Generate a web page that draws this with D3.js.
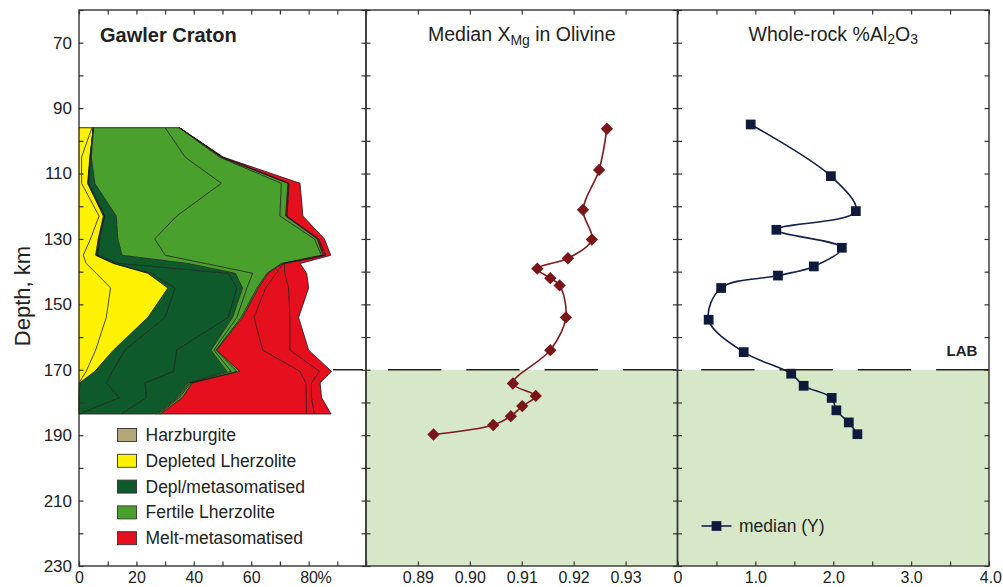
<!DOCTYPE html>
<html>
<head>
<meta charset="utf-8">
<script src="https://cdn.jsdelivr.net/npm/d3@7"></script>
<style>
  html, body { margin: 0; padding: 0; background: #fff; }
  svg { display: block; font-family: "Liberation Sans", Arial, Helvetica, sans-serif; }
</style>
</head>
<body>
<svg id="chart" width="1003" height="587"></svg>
<script>
// ---------------- data ----------------
// Depth rows (km) of the rock-type profile
const depthRows = [96, 105, 113, 123, 130, 135, 137.5, 140.5, 145, 154, 164, 170.5, 174, 178.5, 183.5];

// Proportion (%) of each rock type at every depth row; a rock type may be split
// into several sub-columns, which share one colour and are separated by a thin line
const harzburgite    = [0, 0, 0, 0, 0, 0, 0, 0, 0, 0, 0, 0, 0, 0, 0];
const depletedLherzA = [4.5, 0.9, 0.9, 7, 4, 1.5, 2.5, 6, 11, 9.5, 5.8, 2.5, 0, 0, 0];
const depletedLherzB = [0.5, 2.9, 2.1, 1.5, 2.7, 4.3, 9.5, 18, 20, 14.5, 6.2, 3, 0.3, 0, 0];
const deplMetaA      = [0, 0.1, 0.2, 0.3, 0.3, 0.4, 0.5, 1, 2.5, 6, 4, 6.1, 9.3, 14, 0.3];
const deplMetaB      = [0, 0.1, 0.2, 0.2, 0.2, 0.3, 1.5, 27, 21.5, 22, 18, 21.4, 13.4, 9.5, 14.5];
const deplMetaC      = [0, 0.3, 2.1, 4, 6.3, 8.5, 24, 2.5, 2, 1.5, 12, 18.5, 15, 10.5, 12.2];
const fertileLherzA  = [25, 32.7, 44.1, 21, 12.9, 15, 6, 6, 1.5, 1.5, 1, 1.5, 0.5, 0.5, 0.5];
const fertileLherzB  = [5, 12, 20.9, 36, 55.6, 54.5, 26.5, 5, 3.5, 1.5, 0.7, 2, 0.5, 0.5, 0.5];
const fertileLherzC  = [0, 0.6, 2.3, 2, 1, 0.5, 0.5, 0.4, 0.5, 0.5, 0.3, 1, 0.5, 1, 0.5];
const meltMetaA      = [0, 0.2, 0.2, 0.3, 0.3, 0.5, 0.3, 2.8, 2.5, 4, 16, 21, 39.5, 43.2, 50.7];
const meltMetaB      = [0, 0.2, 0.2, 0.2, 0.3, 0.5, 0.3, 3, 8, 12.5, 9.5, 6.8, 2, 1.8, 2.8];
const meltMetaC      = [0, 0.3, 3.8, 5.5, 1.9, 1.7, 5.4, 7.6, 7, 3, 6.5, 4.2, 3, 3.5, 5.8];

const rockTypes = ["Harzburgite", "Depleted Lherzolite", "Depl/metasomatised", "Fertile Lherzolite", "Melt-metasomatised"];
const rockColors = ["#b3a77a", "#fff200", "#0f5a2b", "#4aa02c", "#e60f1e"];

// Median olivine Mg# with depth
const olivineDepth = [96.3, 108.9, 121.1, 130.2, 135.9, 139.1, 142, 144.2, 154, 164, 174.2, 178, 181.1, 184.2, 186.9, 189.8];
const olivineXMg   = [0.9264, 0.9249, 0.9218, 0.9235, 0.9189, 0.9130, 0.9155, 0.9173, 0.9185, 0.9155, 0.9083, 0.9127, 0.9101, 0.9079, 0.9045, 0.8930];

// Median whole-rock Al2O3 (wt%) with depth
const aluminaDepth = [95, 110.8, 121.5, 127.2, 132.7, 138.4, 141.2, 145, 154.7, 164.6, 171.2, 174.9, 178.6, 182.4, 186.1, 189.7];
const aluminaPct   = [0.94, 1.97, 2.29, 1.27, 2.11, 1.75, 1.29, 0.56, 0.40, 0.85, 1.46, 1.62, 1.98, 2.04, 2.20, 2.31];

const labDepth = 170;

// Axis ticks
const depthTicks = d3.range(60, 231, 10);
const depthLabels = d3.range(70, 231, 20);
const rockTicks = d3.range(0, 101, 10);
const rockLabels = [0, 20, 40, 60, 80];
const olivineTicks = [0.88, 0.89, 0.90, 0.91, 0.92, 0.93, 0.94];
const olivineLabels = [0.89, 0.90, 0.91, 0.92, 0.93];
const aluminaTicks = d3.range(0, 4.01, 0.5);
const aluminaLabels = [0, 1, 2, 3, 4];

// ---------------- layout ----------------
const svg = d3.select("#chart");
const yTop = 10, yBot = 566;
const y = d3.scaleLinear().domain([60, 230]).range([yTop, yBot]);
const xRock = d3.scaleLinear().domain([0, 100]).range([79, 366]);
const xOl = d3.scaleLinear().domain([0.88, 0.94]).range([366, 677.5]);
const xAl = d3.scaleLinear().domain([0, 4]).range([677.5, 989]);

const ink = "#222";
const frameInk = "#333";

// ---------------- asthenosphere band (below LAB) ----------------
svg.append("rect")
  .attr("x", xOl.range()[0]).attr("y", y(labDepth))
  .attr("width", xAl.range()[1] - xOl.range()[0])
  .attr("height", y(230) - y(labDepth))
  .attr("fill", "#d6e8c8");

// ---------------- stacked rock-type profile ----------------
const layers = [
  {key: "harz", values: harzburgite, type: 0},
  {key: "dlA", values: depletedLherzA, type: 1},
  {key: "dlB", values: depletedLherzB, type: 1},
  {key: "dmA", values: deplMetaA, type: 2},
  {key: "dmB", values: deplMetaB, type: 2},
  {key: "dmC", values: deplMetaC, type: 2},
  {key: "flA", values: fertileLherzA, type: 3},
  {key: "flB", values: fertileLherzB, type: 3},
  {key: "flC", values: fertileLherzC, type: 3},
  {key: "mmA", values: meltMetaA, type: 4},
  {key: "mmB", values: meltMetaB, type: 4},
  {key: "mmC", values: meltMetaC, type: 4}
];
const rows = depthRows.map((d, i) => {
  const r = {depth: d};
  layers.forEach(l => { r[l.key] = l.values[i]; });
  return r;
});
const stacked = d3.stack().keys(layers.map(l => l.key))(rows);

const area = d3.area()
  .y(d => y(d.data.depth))
  .x0(d => xRock(d[0]))
  .x1(d => xRock(d[1]));

const gRock = svg.append("g");
gRock.selectAll("path.layer")
  .data(stacked)
  .join("path")
  .attr("class", "layer")
  .attr("d", area)
  .attr("fill", (s, i) => rockColors[layers[i].type])
  .attr("stroke", (s, i) => rockColors[layers[i].type])
  .attr("stroke-width", 0.3);

const edge = d3.line()
  .x(d => xRock(d[1]))
  .y(d => y(d.data.depth));
gRock.selectAll("path.edge")
  .data(stacked.slice(1))
  .join("path")
  .attr("class", "edge")
  .attr("d", edge)
  .attr("fill", "none")
  .attr("stroke", "#1c1c1c")
  .attr("stroke-width", 0.8)
  .attr("stroke-linejoin", "round");

// top and bottom closing edges
const outer = stacked[stacked.length - 1];
[0, outer.length - 1].forEach(i => {
  gRock.append("line")
    .attr("x1", xRock(0)).attr("x2", xRock(outer[i][1]))
    .attr("y1", y(outer[i].data.depth)).attr("y2", y(outer[i].data.depth))
    .attr("stroke", "#333").attr("stroke-width", 1);
});

// ---------------- olivine Mg# ----------------
const olPts = olivineDepth.map((d, i) => [xOl(olivineXMg[i]), y(d)]);
svg.append("path")
  .attr("d", d3.line().curve(d3.curveCatmullRom.alpha(0.5))(olPts))
  .attr("fill", "none").attr("stroke", "#7e1a1c").attr("stroke-width", 1.6);
svg.append("g").selectAll("path")
  .data(olPts)
  .join("path")
  .attr("d", d3.symbol(d3.symbolSquare, 76)())
  .attr("transform", p => `translate(${p[0]},${p[1]}) rotate(45)`)
  .attr("fill", "#7a1518");

// ---------------- whole-rock Al2O3 ----------------
const alPts = aluminaDepth.map((d, i) => [xAl(aluminaPct[i]), y(d)]);
svg.append("path")
  .attr("d", d3.line().curve(d3.curveCatmullRom.alpha(0.5))(alPts))
  .attr("fill", "none").attr("stroke", "#13204a").attr("stroke-width", 1.6);
svg.append("g").selectAll("path")
  .data(alPts)
  .join("path")
  .attr("d", d3.symbol(d3.symbolSquare, 95)())
  .attr("transform", p => `translate(${p[0]},${p[1]})`)
  .attr("fill", "#0e1a3c");

// ---------------- LAB line ----------------
svg.append("line")
  .attr("x1", 333).attr("x2", xAl.range()[1])
  .attr("y1", y(labDepth)).attr("y2", y(labDepth))
  .attr("stroke", ink).attr("stroke-width", 1.5)
  .attr("stroke-dasharray", "53.3,25")
  .attr("stroke-dashoffset", 23.3);
svg.append("text")
  .attr("x", 946.5).attr("y", 356)
  .attr("font-size", 15).attr("font-weight", "bold").attr("fill", ink)
  .text("LAB");

// ---------------- frames and inward ticks ----------------
function panelFrame(x, xTicks) {
  const g = svg.append("g");
  const [a, b] = x.range();
  g.append("g").attr("transform", `translate(${a},0)`)
    .call(d3.axisRight(y).tickValues(depthTicks).tickSize(4.5).tickFormat(""));
  g.append("g").attr("transform", `translate(${b},0)`)
    .call(d3.axisLeft(y).tickValues(depthTicks).tickSize(4.5).tickFormat(""));
  g.append("g").attr("transform", `translate(0,${yTop})`)
    .call(d3.axisBottom(x).tickValues(xTicks).tickSize(4.5).tickFormat(""));
  g.append("g").attr("transform", `translate(0,${yBot})`)
    .call(d3.axisTop(x).tickValues(xTicks).tickSize(4.5).tickFormat(""));
  g.selectAll(".domain").remove();
  g.selectAll("line").attr("stroke", frameInk).attr("stroke-width", 1.2);
  g.append("rect")
    .attr("x", a).attr("y", yTop).attr("width", b - a).attr("height", yBot - yTop)
    .attr("fill", "none").attr("stroke", frameInk).attr("stroke-width", 1.4);
}
panelFrame(xRock, rockTicks);
panelFrame(xOl, olivineTicks);
panelFrame(xAl, aluminaTicks);

// ---------------- tick labels ----------------
const labelSize = 16;
function styleLabels(g) {
  g.select(".domain").remove();
  g.attr("font-size", labelSize).attr("font-family", null);
  g.selectAll("text").attr("fill", ink);
}
svg.append("g").attr("transform", `translate(${xRock(0)},0)`)
  .call(d3.axisLeft(y).tickValues(depthLabels).tickSize(0).tickPadding(7))
  .call(styleLabels)
  .attr("font-size", 17);

const bottomPad = 5.5;
const bottomAxes = [
  [xRock, rockLabels, d => String(d)],
  [xOl, olivineLabels, d3.format(".2f")],
  [xAl, aluminaLabels.slice(0, 4), d => d === 0 ? "0" : d3.format(".1f")(d)]
];
bottomAxes.forEach(([x, vals, fmt]) => {
  svg.append("g").attr("transform", `translate(0,${yBot})`)
    .call(d3.axisBottom(x).tickValues(vals).tickSize(0).tickPadding(bottomPad).tickFormat(fmt))
    .call(styleLabels);
});
// last value label sits against the right edge of the picture
svg.append("text")
  .attr("x", 1002).attr("y", yBot + bottomPad).attr("dy", "0.71em")
  .attr("text-anchor", "end")
  .attr("font-size", labelSize).attr("fill", ink).text(d3.format(".1f")(aluminaLabels[4]));
// percent sign trailing the last rock-profile label
svg.append("text")
  .attr("x", xRock(80) + 9).attr("y", yBot + bottomPad).attr("dy", "0.71em")
  .attr("font-size", labelSize).attr("fill", ink).text("%");

// depth axis title
svg.append("text")
  .attr("transform", `translate(29.5,${(y(60) + y(230)) / 2 + 8}) rotate(-90)`)
  .attr("text-anchor", "middle")
  .attr("font-size", 22).attr("fill", ink)
  .text("Depth, km");

// ---------------- panel titles ----------------
svg.append("text")
  .attr("x", 100).attr("y", 41.5)
  .attr("font-size", 20).attr("font-weight", "bold").attr("fill", ink)
  .text("Gawler Craton");

const t1 = svg.append("text")
  .attr("x", (xOl.range()[0] + xOl.range()[1]) / 2).attr("y", 40.7)
  .attr("text-anchor", "middle").attr("font-size", 19.5).attr("fill", ink);
t1.append("tspan").text("Median X");
t1.append("tspan").attr("font-size", 14).attr("dy", 4.5).text("Mg");
t1.append("tspan").attr("dy", -4.5).text(" in Olivine");

const t2 = svg.append("text")
  .attr("x", (xAl.range()[0] + xAl.range()[1]) / 2).attr("y", 41)
  .attr("text-anchor", "middle").attr("font-size", 19.5).attr("fill", ink);
t2.append("tspan").text("Whole-rock %Al");
t2.append("tspan").attr("font-size", 14).attr("dy", 3).text("2");
t2.append("tspan").attr("dy", -3).text("O");
t2.append("tspan").attr("font-size", 14).attr("dy", 3).text("3");

// ---------------- legends ----------------
const legRock = svg.append("g");
rockTypes.forEach((name, i) => {
  const cy = 435 + i * 25.8;
  legRock.append("rect")
    .attr("x", 117.5).attr("y", cy - 6.5).attr("width", 19).attr("height", 13)
    .attr("fill", rockColors[i]).attr("stroke", "#333").attr("stroke-width", 0.9);
  legRock.append("text")
    .attr("x", 145.5).attr("y", cy + 6)
    .attr("font-size", 17.5).attr("fill", ink)
    .text(name);
});

const legAl = svg.append("g");
legAl.append("line")
  .attr("x1", 701.5).attr("x2", 731.5).attr("y1", 526).attr("y2", 526)
  .attr("stroke", "#13204a").attr("stroke-width", 1.6);
legAl.append("path")
  .attr("d", d3.symbol(d3.symbolSquare, 95)())
  .attr("transform", "translate(716.5,526)")
  .attr("fill", "#0e1a3c");
legAl.append("text")
  .attr("x", 739).attr("y", 532)
  .attr("font-size", 17.5).attr("fill", ink)
  .text("median (Y)");
</script>
</body>
</html>
